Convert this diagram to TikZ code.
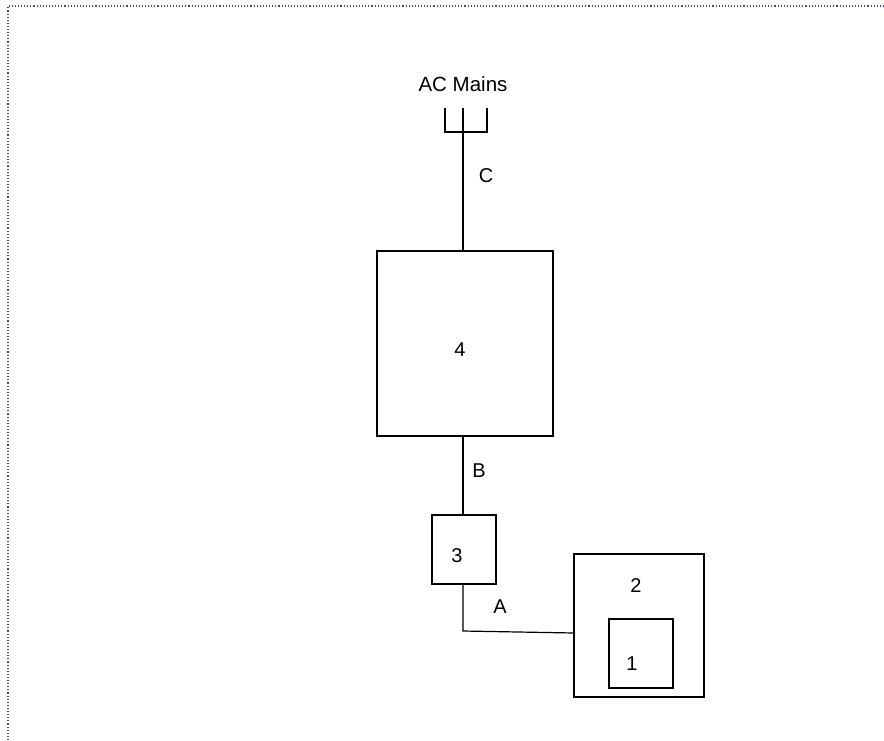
\documentclass[tikz,border=0pt]{standalone}
\usepackage{fontspec}
\setmainfont{Liberation Sans}
\begin{document}
\begin{tikzpicture}[x=1pt,y=-1pt,
  blk/.style={draw,line width=1.2pt,inner sep=0pt},
  lbl/.style={font=\fontsize{20}{22}\selectfont},
  wire/.style={line width=1.2pt}]
\useasboundingbox (0,0) rectangle (884,740);
\draw[color={rgb,255:red,60;green,80;blue,120},dotted,line width=1.1pt] (8,740) -- (8,6) -- (884,6);
\node[font=\fontsize{20.5}{22}\selectfont] (acm) at (463,84) {AC Mains};
\coordinate (pl) at (445,108);
\coordinate (pm) at (463,108);
\coordinate (pr) at (487,108);
\coordinate (pbase) at (463,132);
\draw[wire] (pl) |- (pbase) -| (pr);
\draw[wire] (pm) -- (pbase);
\draw[blk] (377,251) rectangle (553,436);
\coordinate (b4top) at (463,251);
\coordinate (b4bot) at (463,436);
\node[lbl] (n4) at (460,350) {4};
\draw[wire] (pbase) -- (b4top);
\node[lbl] (lc) at (486,176) {C};
\draw[blk] (432,515) rectangle (496,584);
\coordinate (b3top) at (463,515);
\coordinate (b3bot) at (463,584);
\node[lbl] (n3) at (457,556) {3};
\draw[wire] (b4bot) -- (b3top);
\node[lbl] (lb) at (479,471) {B};
\draw[blk] (574,554) rectangle (704,697);
\node[lbl] (n2) at (636,586) {2};
\draw[blk] (609,619) rectangle (673,688);
\node[lbl] (n1) at (632,664) {1};
\coordinate (corner) at (463,631);
\coordinate (b2left) at (574,633);
\draw[wire] (b3bot) -- (corner) -- (b2left);
\node[lbl] (la) at (500,607) {A};
\end{tikzpicture}
\end{document}
